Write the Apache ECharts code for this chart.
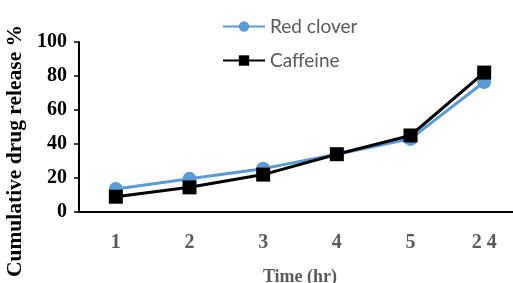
<!DOCTYPE html>
<html>
<head>
<meta charset="utf-8">
<script src="https://cdn.jsdelivr.net/npm/echarts@6/dist/echarts.min.js"></script>
<style>
  html, body { margin: 0; padding: 0; background: #fff; }
  #chart { width: 513px; height: 283px; }
</style>
</head>
<body>
<div id="chart"></div>
<script>
const timeLabels = ["1", "2", "3", "4", "5", "2 4"];
const redClover = [13.5, 19.5, 25.5, 34, 43, 76.5];
const caffeine = [9, 14.5, 22, 34, 45, 82];
const yTicks = { min: 0, max: 100, interval: 20 };

const chart = echarts.init(document.getElementById("chart"));

const option = {
  animation: false,
  legend: {
    orient: "vertical",
    left: 217,
    top: 12,
    itemWidth: 42,
    itemHeight: 13,
    itemGap: 15,
    textStyle: {
      fontFamily: "Lato",
      fontSize: 19,
      color: "#595959",
    },
    data: ["Red clover", "Caffeine"],
  },
  grid: { left: 79, top: 42, width: 442, height: 170, outerBoundsMode: "none", containLabel: false },
  xAxis: {
    type: "category",
    data: timeLabels,
    name: "Time (hr)",
    nameLocation: "middle",
    nameGap: 56,
    nameTextStyle: {
      fontFamily: "Liberation Serif",
      fontWeight: "bold",
      fontSize: 18,
      color: "#595959",
    },
    axisLine: { lineStyle: { color: "#000", width: 2 } },
    axisTick: { show: false },
    axisLabel: {
      margin: 21,
      fontFamily: "Liberation Serif",
      fontWeight: "bold",
      fontSize: 20,
      color: "#595959",
    },
  },
  yAxis: {
    type: "value",
    min: yTicks.min,
    max: yTicks.max,
    interval: yTicks.interval,
    name: "Cumulative drug release %",
    nameLocation: "middle",
    nameGap: 42,
    nameTextStyle: {
      fontFamily: "Liberation Serif",
      fontWeight: "bold",
      fontSize: 21.5,
      color: "#000",
      padding: [0, 48, 0, 0],
    },
    axisLine: { show: true, lineStyle: { color: "#000", width: 2 } },
    axisTick: { show: true, length: 5, lineStyle: { color: "#000", width: 1.5 } },
    splitLine: { show: false },
    axisLabel: {
      margin: 12,
      fontFamily: "Liberation Serif",
      fontWeight: "bold",
      fontSize: 20,
      color: "#000",
    },
  },
  series: [
    {
      name: "Red clover",
      type: "line",
      data: redClover,
      symbol: "circle",
      symbolSize: 14,
      itemStyle: { color: "#5B9BD5" },
      lineStyle: { color: "#5B9BD5", width: 3 },
    },
    {
      name: "Caffeine",
      type: "line",
      data: caffeine,
      symbol: "rect",
      symbolSize: 14,
      itemStyle: { color: "#000" },
      lineStyle: { color: "#000", width: 3 },
    },
  ],
};

chart.setOption(option);
</script>
</body>
</html>
